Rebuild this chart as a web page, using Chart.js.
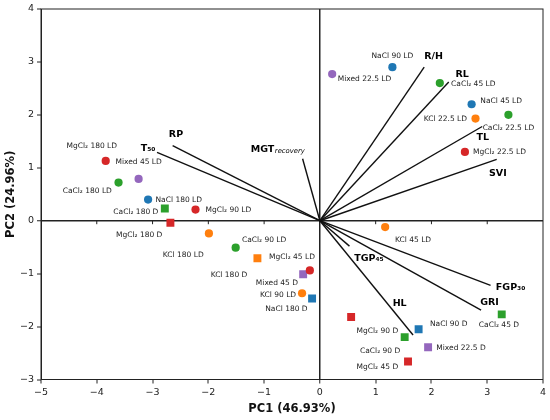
<!DOCTYPE html>
<html>
<head>
<meta charset="utf-8">
<script src="https://cdn.jsdelivr.net/npm/chart.js@4.4.1/dist/chart.umd.min.js"></script>
<style>
html, body { margin: 0; padding: 0; background: #fff; }
#wrap { width: 550px; height: 420px; }
</style>
</head>
<body>
<div id="wrap"><canvas id="biplot"></canvas></div>
<script>
// sample scores
const sampleNames = [
  "NaCl 90 LD", "Mixed 22.5 LD", "CaCl₂ 45 LD", "NaCl 45 LD", "CaCl₂ 22.5 LD", "KCl 22.5 LD", "MgCl₂ 22.5 LD",
  "MgCl₂ 180 LD", "Mixed 45 LD", "CaCl₂ 180 LD", "NaCl 180 LD", "CaCl₂ 180 D", "MgCl₂ 90 LD", "MgCl₂ 180 D",
  "KCl 180 LD", "CaCl₂ 90 LD", "KCl 180 D", "Mixed 45 D", "MgCl₂ 45 LD", "KCl 90 LD", "NaCl 180 D",
  "KCl 45 LD", "MgCl₂ 90 D", "NaCl 90 D", "CaCl₂ 90 D", "Mixed 22.5 D", "MgCl₂ 45 D", "CaCl₂ 45 D"
];
const salts = [
  "NaCl", "Mixed", "CaCl2", "NaCl", "CaCl2", "KCl", "MgCl2",
  "MgCl2", "Mixed", "CaCl2", "NaCl", "CaCl2", "MgCl2", "MgCl2",
  "KCl", "CaCl2", "KCl", "Mixed", "MgCl2", "KCl", "NaCl",
  "KCl", "MgCl2", "NaCl", "CaCl2", "Mixed", "MgCl2", "CaCl2"
];
const pc1 = [1.30, 0.22, 2.15, 2.72, 3.38, 2.79, 2.60,
  -3.84, -3.25, -3.61, -3.08, -2.78, -2.23, -2.68,
  -1.99, -1.51, -1.12, -0.30, -0.18, -0.32, -0.14,
  1.17, 0.56, 1.77, 1.52, 1.94, 1.58, 3.26];
const pc2 = [2.90, 2.77, 2.60, 2.20, 2.00, 1.93, 1.30,
  1.13, 0.79, 0.72, 0.40, 0.23, 0.21, -0.04,
  -0.24, -0.51, -0.71, -1.01, -0.94, -1.37, -1.47,
  -0.12, -1.82, -2.05, -2.20, -2.39, -2.66, -1.77];

// variable loadings
const varNames = ["R/H", "RL", "TL", "SVI", "RP", "T₅₀", "MGT", "TGP₄₅", "FGP₃₀", "GRI", "HL"];
const loadPC1 = [1.87, 2.31, 2.91, 3.17, -2.64, -2.92, -0.31, 0.53, 3.06, 2.89, 1.67];
const loadPC2 = [2.90, 2.62, 1.78, 1.16, 1.42, 1.29, 1.17, -0.48, -1.22, -1.69, -2.16];

// where the text labels sit (data units, text centre)
const sampleLabelAt = [
  [1.30, 3.11], [0.80, 2.68], [2.75, 2.59], [3.25, 2.26], [3.38, 1.75], [2.25, 1.93], [3.22, 1.30],
  [-4.09, 1.41], [-3.25, 1.10], [-4.17, 0.56], [-2.53, 0.39], [-3.30, 0.16], [-1.64, 0.20], [-3.24, -0.28],
  [-2.45, -0.65], [-1.00, -0.37], [-1.63, -1.03], [-0.77, -1.18], [-0.50, -0.68], [-0.75, -1.41], [-0.60, -1.66],
  [1.67, -0.36], [1.03, -2.09], [2.31, -1.95], [1.08, -2.46], [2.53, -2.41], [1.03, -2.77], [3.21, -1.98]
];
const varLabelAt = [
  [2.04, 3.11], [2.55, 2.77], [2.92, 1.58], [3.19, 0.90], [-2.58, 1.62], [-3.08, 1.37],
  [-0.76, 1.35], [0.88, -0.71], [3.42, -1.27], [3.04, -1.55], [1.43, -1.56]
];

const saltColor = {
  NaCl: "#1f77b4", KCl: "#ff7f0e", CaCl2: "#2ca02c", MgCl2: "#d62728", Mixed: "#9467bd"
};
const FONT = "DejaVu Sans";
const isDark = sampleNames.map(n => n.endsWith(" D"));

function minusFmt(v) {
  return v < 0 ? "\u2212" + Math.abs(v) : String(v);
}

const loadingSets = varNames.map((name, i) => ({
  label: name,
  data: [{x: 0, y: 0}, {x: loadPC1[i], y: loadPC2[i]}],
  showLine: true,
  borderColor: "#111",
  borderWidth: 1.4,
  pointRadius: 0,
  order: 1
}));

const labelsPlugin = {
  id: "biplotText",
  afterDatasetsDraw(chart) {
    const {ctx, chartArea: a, scales} = chart;
    const xs = scales.x, ys = scales.y;
    ctx.save();
    // frame
    ctx.strokeStyle = "#222";
    ctx.lineWidth = 1;
    ctx.strokeRect(a.left, a.top, a.right - a.left, a.bottom - a.top);
    // small ticks hanging from the zero line
    const y0 = ys.getPixelForValue(0);
    ctx.beginPath();
    for (let v = -4; v <= 3; v++) {
      if (v === 0) continue;
      const px = xs.getPixelForValue(v);
      ctx.moveTo(px, y0);
      ctx.lineTo(px, y0 + 3.5);
    }
    ctx.stroke();

    // sample labels
    ctx.fillStyle = "#222";
    ctx.textAlign = "center";
    ctx.textBaseline = "middle";
    ctx.font = "7.5px '" + FONT + "'";
    sampleNames.forEach((n, i) => {
      const [lx, ly] = sampleLabelAt[i];
      ctx.fillText(n, xs.getPixelForValue(lx), ys.getPixelForValue(ly));
    });

    // variable labels
    ctx.fillStyle = "#000";
    varNames.forEach((n, i) => {
      const [lx, ly] = varLabelAt[i];
      const px = xs.getPixelForValue(lx), py = ys.getPixelForValue(ly);
      if (n === "MGT") {
        ctx.font = "bold 9.5px '" + FONT + "'";
        const w1 = ctx.measureText(n).width;
        ctx.font = "italic 6.8px '" + FONT + "'";
        const w2 = ctx.measureText("recovery").width;
        const start = px - (w1 + w2) / 2;
        ctx.textAlign = "left";
        ctx.font = "bold 9.5px '" + FONT + "'";
        ctx.fillText(n, start, py);
        ctx.font = "italic 6.8px '" + FONT + "'";
        ctx.fillText("recovery", start + w1 + 0.5, py + 2);
        ctx.textAlign = "center";
      } else {
        ctx.font = "bold 9.5px '" + FONT + "'";
        ctx.fillText(n, px, py);
      }
    });
    ctx.restore();
  }
};

function zeroColor(c) {
  return c.tick && c.tick.value === 0 ? "#222" : "rgba(0,0,0,0)";
}
function zeroWidth(c) {
  return c.tick && c.tick.value === 0 ? 1.5 : 0;
}

new Chart(document.getElementById("biplot"), {
  type: "scatter",
  data: {
    datasets: [{
      label: "samples",
      data: pc1.map((x, i) => ({x: x, y: pc2[i]})),
      backgroundColor: salts.map(s => saltColor[s]),
      pointStyle: isDark.map(d => d ? "rect" : "circle"),
      pointRadius: isDark.map(d => d ? 5.6 : 4.1),
      borderWidth: 0,
      order: 0
    }].concat(loadingSets)
  },
  options: {
    responsive: true,
    maintainAspectRatio: false,
    animation: false,
    layout: { padding: { top: 9, right: 7, left: 0, bottom: 0 } },
    plugins: { legend: { display: false }, tooltip: { enabled: false } },
    scales: {
      x: {
        type: "linear", min: -5, max: 4,
        ticks: { stepSize: 1, color: "#222", padding: 3, font: { family: FONT, size: 9.5 }, callback: minusFmt },
        grid: { color: zeroColor, lineWidth: zeroWidth, tickColor: "#222", tickWidth: 1, tickLength: 4 },
        border: { color: "#222", width: 1 },
        title: { display: true, text: "PC1 (46.93%)", color: "#111",
                 font: { family: FONT, size: 11.5, weight: "bold" }, padding: { top: 0, bottom: 4 } },
        afterFit(s) { s.height = 40.5; }
      },
      y: {
        type: "linear", min: -3, max: 4,
        ticks: { stepSize: 1, color: "#222", padding: 3, font: { family: FONT, size: 9.5 }, callback: minusFmt },
        grid: { color: zeroColor, lineWidth: zeroWidth, tickColor: "#222", tickWidth: 1, tickLength: 4 },
        border: { color: "#222", width: 1 },
        title: { display: true, text: "PC2 (24.96%)", color: "#111",
                 font: { family: FONT, size: 11.5, weight: "bold" }, padding: { top: 4, bottom: 0 } },
        afterFit(s) { s.width = 41; }
      }
    }
  },
  plugins: [labelsPlugin]
});
</script>
</body>
</html>
